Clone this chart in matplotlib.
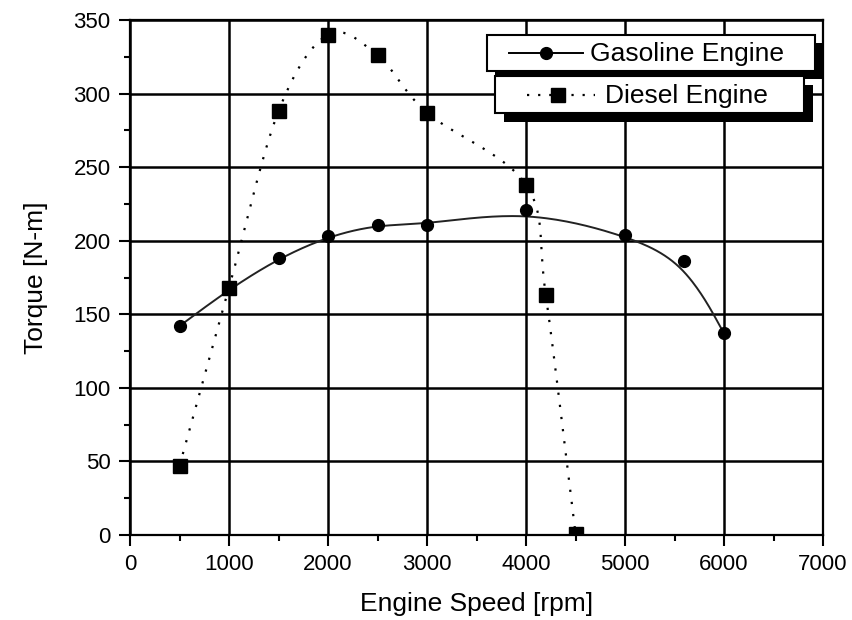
import numpy as np
import matplotlib
matplotlib.use('Agg')
import matplotlib.pyplot as plt
from matplotlib.patches import Rectangle
from matplotlib.ticker import MultipleLocator

plt.rcParams['font.family'] = ['Liberation Sans', 'DejaVu Sans']

# data
gas_rpm = [500, 1000, 1500, 2000, 2500, 3000, 4000, 5000, 5600, 6000]
gas_torque = [142, 167, 188, 203, 211, 211, 221, 204, 186, 137]
diesel_rpm = [500, 1000, 1500, 2000, 2500, 3000, 4000, 4200, 4500]
diesel_torque = [47, 168, 288, 340, 326, 287, 238, 163, 1]
x_ticks = [0, 1000, 2000, 3000, 4000, 5000, 6000, 7000]
y_ticks = [0, 50, 100, 150, 200, 250, 300, 350]


def catmull_rom(x, y, n=30):
    p = np.column_stack([x, y]).astype(float)
    p = np.vstack([2 * p[0] - p[1], p, 2 * p[-1] - p[-2]])
    out = []
    t = np.linspace(0, 1, n)[:, None]
    for i in range(1, len(p) - 2):
        p0, p1, p2, p3 = p[i - 1], p[i], p[i + 1], p[i + 2]
        seg = 0.5 * ((2 * p1) + (-p0 + p2) * t + (2 * p0 - 5 * p1 + 4 * p2 - p3) * t ** 2
                     + (-p0 + 3 * p1 - 3 * p2 + p3) * t ** 3)
        out.append(seg)
    out = np.vstack(out)
    return out[:, 0], out[:, 1]


def bspline(x, y, n=30):
    # uniform cubic B-spline, ends clamped -> smooth approximating curve
    p = np.column_stack([x, y]).astype(float)
    p = np.vstack([p[0], p[0], p, p[-1], p[-1]])
    out = []
    t = np.linspace(0, 1, n)[:, None]
    for i in range(len(p) - 3):
        p0, p1, p2, p3 = p[i], p[i + 1], p[i + 2], p[i + 3]
        seg = ((1 - t) ** 3 * p0 + (3 * t ** 3 - 6 * t ** 2 + 4) * p1
               + (-3 * t ** 3 + 3 * t ** 2 + 3 * t + 1) * p2 + t ** 3 * p3) / 6
        out.append(seg)
    out = np.vstack(out)
    return out[:, 0], out[:, 1]


W, H = 852, 620
fig = plt.figure(figsize=(W / 100, H / 100), dpi=100)
ax = fig.add_axes([130 / W, 1 - 535 / H, 693 / W, 515 / H])

ax.grid(True, color='black', linewidth=1.8)
ax.set_axisbelow(True)

gx, gy = bspline(gas_rpm, gas_torque)
ax.plot(gx, gy, color='#222222', linewidth=1.4)
ax.plot(gas_rpm, gas_torque, 'o', color='black', markersize=8.5, zorder=4)

dx, dy = catmull_rom(diesel_rpm, diesel_torque)
ax.plot(dx, dy, color='black', linewidth=1.6, linestyle=(0, (1, 4.5)))
ax.plot(diesel_rpm, diesel_torque, 's', color='black', markersize=9.5, zorder=4)

ax.set_xlim(0, 7000)
ax.set_ylim(0, 350)
ax.set_xticks(x_ticks)
ax.set_yticks(y_ticks)
ax.xaxis.set_minor_locator(MultipleLocator(500))
ax.yaxis.set_minor_locator(MultipleLocator(25))
ax.tick_params(which='major', direction='out', length=8, width=1.5, labelsize=16, pad=6)
ax.tick_params(which='minor', direction='out', length=4, width=1.5)
for s in ax.spines.values():
    s.set_linewidth(1.6)
ax.set_xlabel('Engine Speed [rpm]', fontsize=19, labelpad=12)
ax.set_ylabel('Torque [N-m]', fontsize=19, labelpad=18)

# legend boxes with hard black shadows, drawn in pixel space
ov = fig.add_axes([0, 0, 1, 1], zorder=10)
ov.set_xlim(0, W)
ov.set_ylim(H, 0)
ov.axis('off')
ov.patch.set_alpha(0)


def box(x0, y0, x1, y1, off):
    ov.add_patch(Rectangle((x0 + off, y0 + off), x1 - x0, y1 - y0, facecolor='black', edgecolor='none'))
    ov.add_patch(Rectangle((x0, y0), x1 - x0, y1 - y0, facecolor='white', edgecolor='black', linewidth=1.5))


box(487, 35, 815, 71, 8)
ov.plot([509, 583], [53, 53], color='black', linewidth=1.4)
ov.plot([546], [53], 'o', color='black', markersize=8.5)
ov.text(590, 54, 'Gasoline Engine', fontsize=19, va='center', ha='left')

box(495, 76, 804, 113, 9)
ov.plot([527, 595], [95, 95], color='black', linewidth=1.6, linestyle=(0, (1, 4)))
ov.plot([558], [95], 's', color='black', markersize=9.5)
ov.text(605, 96, 'Diesel Engine', fontsize=19, va='center', ha='left')

fig.savefig('out.png', dpi=100)
